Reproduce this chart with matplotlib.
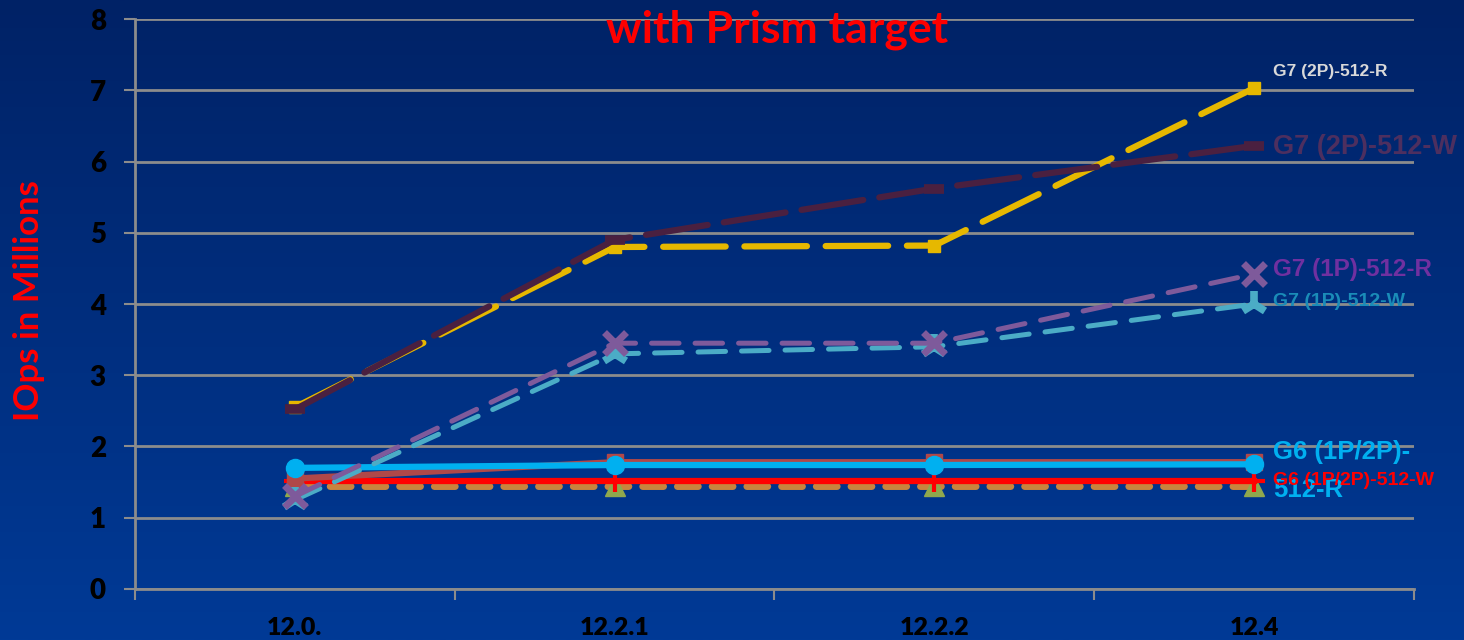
import matplotlib
matplotlib.use("Agg")
import matplotlib.pyplot as plt
import numpy as np
from matplotlib.colors import LinearSegmentedColormap

# ---- data ----
categories = ["12.0.", "12.2.1", "12.2.2", "12.4"]
g7_2p_r = [2.55, 4.80, 4.82, 7.03]
g7_2p_w = [2.52, 4.90, 5.62, 6.22]
g7_1p_r = [1.30, 3.45, 3.45, 4.42]
g7_1p_w = [1.25, 3.30, 3.40, 4.00]
g6_r = [1.70, 1.74, 1.74, 1.75]
g6_w = [1.52, 1.52, 1.52, 1.52]
g6_sq = [1.55, 1.78, 1.78, 1.78]
g6_tri = [1.45, 1.45, 1.45, 1.45]
y_ticks = [0, 1, 2, 3, 4, 5, 6, 7, 8]

title = "with Prism target"
y_label = "IOps in Millions"

fig = plt.figure(figsize=(14.64, 6.4), dpi=100)

# gradient background
bg = fig.add_axes([0, 0, 1, 1], zorder=-10)
grad = np.linspace(0, 1, 256).reshape(-1, 1)
cmap = LinearSegmentedColormap.from_list("bg", ["#002266", "#003a96"])
bg.imshow(grad, aspect="auto", cmap=cmap, extent=[0, 1, 0, 1], origin="upper")
bg.axis("off")

ax = fig.add_axes([0.0922, 0.0797, 0.8736, 0.8906])
ax.patch.set_alpha(0)

x = np.arange(len(categories))

# series
ax.plot(x, g6_tri, color="#C8843E", lw=5, dashes=[3, 2], dash_capstyle="round",
        marker="^", ms=14, mfc="#8FA84E", mec="#8FA84E", zorder=3)
ax.plot(x, g6_w, color="#FF0000", lw=4.5, marker="+", ms=16, mew=3,
        mec="#FF0000", zorder=4)
ax.plot(x, g6_sq, color="#B04848", lw=4.5, marker="s", ms=12,
        mfc="#B04848", mec="#B04848", zorder=5)
ax.plot(x, g6_r, color="#00B0F0", lw=4.5, marker="o", ms=13,
        mfc="#00B0F0", mec="#00B0F0", zorder=6)
ax.plot(x, g7_1p_w, color="#4BACC6", lw=3.6, dashes=[5.5, 3.2], dash_capstyle="round",
        marker="2", ms=19, mew=5.5, mec="#4BACC6", zorder=7)
ax.plot(x, g7_1p_r, color="#7E5A9B", lw=3.6, dashes=[5.5, 3.2], dash_capstyle="round",
        marker="x", ms=16, mew=5, mec="#7E5A9B", zorder=8)
ax.plot(x, g7_2p_r, color="#E6B800", lw=4.5, dashes=[10, 3], dash_capstyle="round",
        marker="s", ms=8, mfc="#E6B800", mec="#E6B800", zorder=9)
ax.plot(x, g7_2p_w, color="#4A2040", lw=4.5, dashes=[10, 2.6], dash_capstyle="round",
        marker="_", ms=15, mew=7, mec="#4A2040", zorder=10)

# series labels at the right
lab_x = 3.06
ax.text(lab_x, 7.26, "G7 (2P)-512-R", color="#D9D9D9", fontsize=12.5,
        fontweight="bold", family="Liberation Sans", va="center", ha="left", clip_on=False)
ax.text(lab_x, 6.20, "G7 (2P)-512-W", color="#4D2F5F", fontsize=19.5,
        fontweight="bold", family="Liberation Sans", va="center", ha="left", clip_on=False)
ax.text(lab_x, 4.49, "G7 (1P)-512-R", color="#7030A0", fontsize=17.5,
        fontweight="bold", family="Liberation Sans", va="center", ha="left", clip_on=False)
ax.text(lab_x, 4.04, "G7 (1P)-512-W", color="#1A8CB8", fontsize=14,
        fontweight="bold", family="Liberation Sans", va="center", ha="left", clip_on=False)
ax.text(lab_x, 1.92, "G6 (1P/2P)-", color="#00B0F0", fontsize=18.5,
        fontweight="bold", family="Liberation Sans", va="center", ha="left", clip_on=False)
ax.text(lab_x, 1.39, "512-R", color="#00B0F0", fontsize=18.5,
        fontweight="bold", family="Liberation Sans", va="center", ha="left", clip_on=False)
ax.text(lab_x, 1.52, "G6 (1P/2P)-512-W", color="#FF0000", fontsize=14,
        fontweight="bold", family="Liberation Sans", va="center", ha="left", clip_on=False,
        zorder=20)

# axes styling
ax.set_xlim(-0.5, 3.5)
ax.set_ylim(0, 8)
ax.set_yticks(y_ticks)
ax.set_xticks(x)
ax.set_xticklabels(categories)
ax.set_xticks(np.arange(-0.5, 3.6, 1), minor=True)
ax.tick_params(axis="x", which="major", length=0, pad=20)
ax.tick_params(axis="x", which="minor", length=8, width=1.5, color="#8C8C8C", direction="out")
ax.tick_params(axis="y", length=8, width=1.5, color="#8C8C8C", direction="out", pad=13)
for lbl in ax.get_xticklabels():
    lbl.set_fontfamily("Lato")
    lbl.set_fontweight("heavy")
    lbl.set_fontsize(18)
    lbl.set_color("black")
for lbl in ax.get_yticklabels():
    lbl.set_fontfamily("Lato")
    lbl.set_fontweight("heavy")
    lbl.set_fontsize(20)
    lbl.set_color("black")

ax.grid(axis="y", color="#8C8C8C", lw=2)
ax.set_axisbelow(True)
for s in ["top", "right"]:
    ax.spines[s].set_visible(False)
for s in ["left", "bottom"]:
    ax.spines[s].set_color("#8C8C8C")
    ax.spines[s].set_linewidth(2)

fig.text(0.0195, 0.53, y_label, rotation=90, color="#FF0000", fontsize=25,
         fontweight="bold", family="Lato", ha="center", va="center")
fig.text(0.531, 1 - 43 / 640, title, color="#FF0000", fontsize=32,
         fontweight="bold", family="Lato", ha="center", va="baseline")

fig.savefig("out.png", dpi=100)
